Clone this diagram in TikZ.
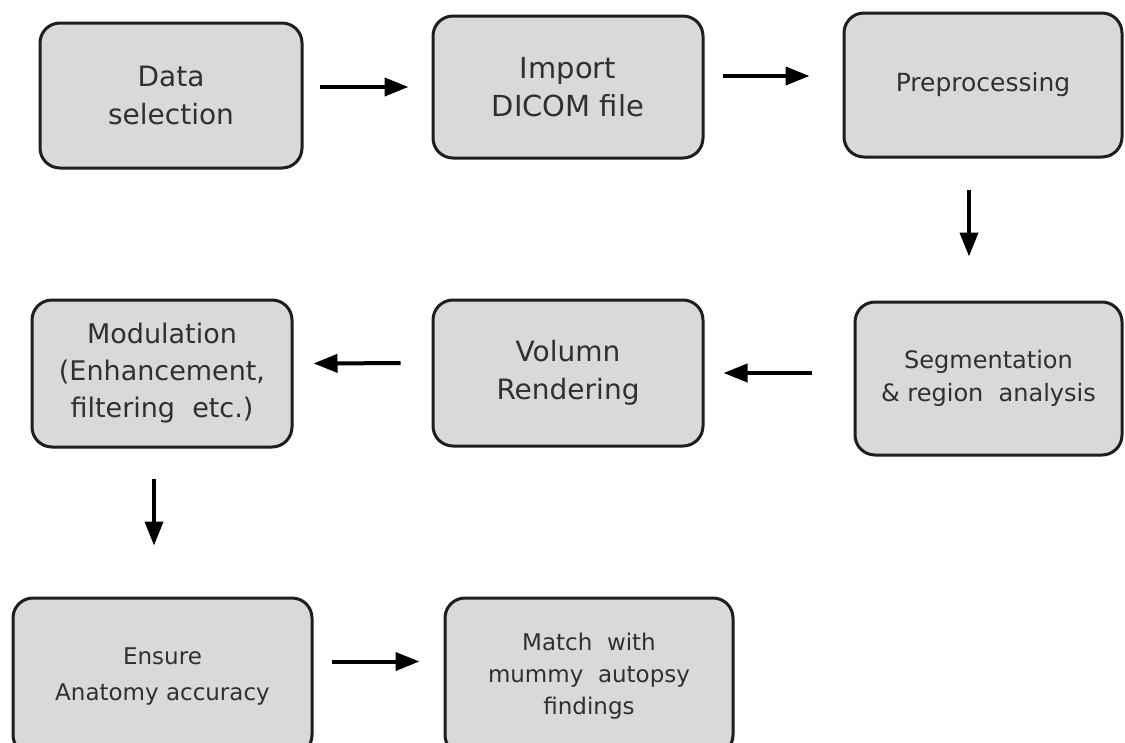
\documentclass[tikz,border=0pt]{standalone}
\usepackage{fontspec}
\setmainfont{DejaVu Sans}
\usetikzlibrary{arrows.meta}
\definecolor{boxgray}{HTML}{D9D9D9}
\definecolor{edgegray}{HTML}{1E1E1E}
\definecolor{textgray}{HTML}{303030}
\newcommand{\fsz}[2]{\fontsize{#1}{#2}\selectfont}
\begin{document}
\begin{tikzpicture}[x=1pt,y=-1pt,
  box/.style={draw=edgegray, line width=3pt, fill=boxgray, rounded corners=20pt,
    align=center, inner sep=0pt, text=textgray},
  arr/.style={line width=4pt, draw=black, -{Triangle[length=24pt,width=18pt]}}]
\useasboundingbox (0,0) rectangle (1125,742);
\clip (0,0) rectangle (1125,742);
\fill[white] (0,0) rectangle (1125,742);
% row 1
\node[box, minimum width=262pt, minimum height=145pt, font=\fsz{28}{38}] (b1) at (171,95.5) {Data\\selection};
\node[box, minimum width=270pt, minimum height=142pt, font=\fsz{29}{38}] (b2) at (568,87) {Import\\DICOM file};
\node[box, minimum width=278pt, minimum height=144pt, font=\fsz{25}{34}] (b3) at (983,85) {Preprocessing};
% row 2
\node[box, minimum width=267pt, minimum height=153pt, font=\fsz{24}{33}] (b4) at (988.5,378.5) {Segmentation\\\&~region~~analysis};
\node[box, minimum width=270pt, minimum height=146pt, font=\fsz{28}{38}] (b5) at (568,373) {Volumn\\Rendering};
\node[box, minimum width=260pt, minimum height=147pt, font=\fsz{27}{37}] (b6) at (162,373.5) {Modulation\\(Enhancement,\\filtering~~etc.)};
% row 3
\node[box, minimum width=299pt, minimum height=157pt, font=\fsz{23}{36}] (b7) at (162.5,676.5) {Ensure\\Anatomy accuracy};
\node[box, minimum width=288pt, minimum height=157pt, font=\fsz{23}{32}] (b8) at (589,676.5) {Match~~with\\mummy~~autopsy\\findings};
% connectors
\draw[arr, shorten <=16pt, shorten >=23pt] (b1.east |- b2.west) -- (b2.west);
\draw[arr, shorten <=18pt, shorten >=33pt] ([yshift=11pt]b2.east) -- ([yshift=9pt]b3.west);
\draw[arr, shorten <=31pt, shorten >=44pt] ([xshift=-14pt]b3.south) -- ([xshift=-14pt]b3.south |- b4.north);
\draw[arr, shorten <=42pt, shorten >=19pt] (b4.west |- b5.east) -- (b5.east);
\draw[arr, shorten <=31pt, shorten >=20pt] ([yshift=10pt]b5.west) -- ([yshift=10pt]b6.east);
\draw[arr, shorten <=30pt, shorten >=51pt] ([xshift=-8pt]b6.south) -- ([xshift=-8pt]b6.south |- b7.north);
\draw[arr, shorten <=18pt, shorten >=24pt] ([yshift=15pt]b7.east) -- ([yshift=15pt]b8.west);
\end{tikzpicture}
\end{document}
